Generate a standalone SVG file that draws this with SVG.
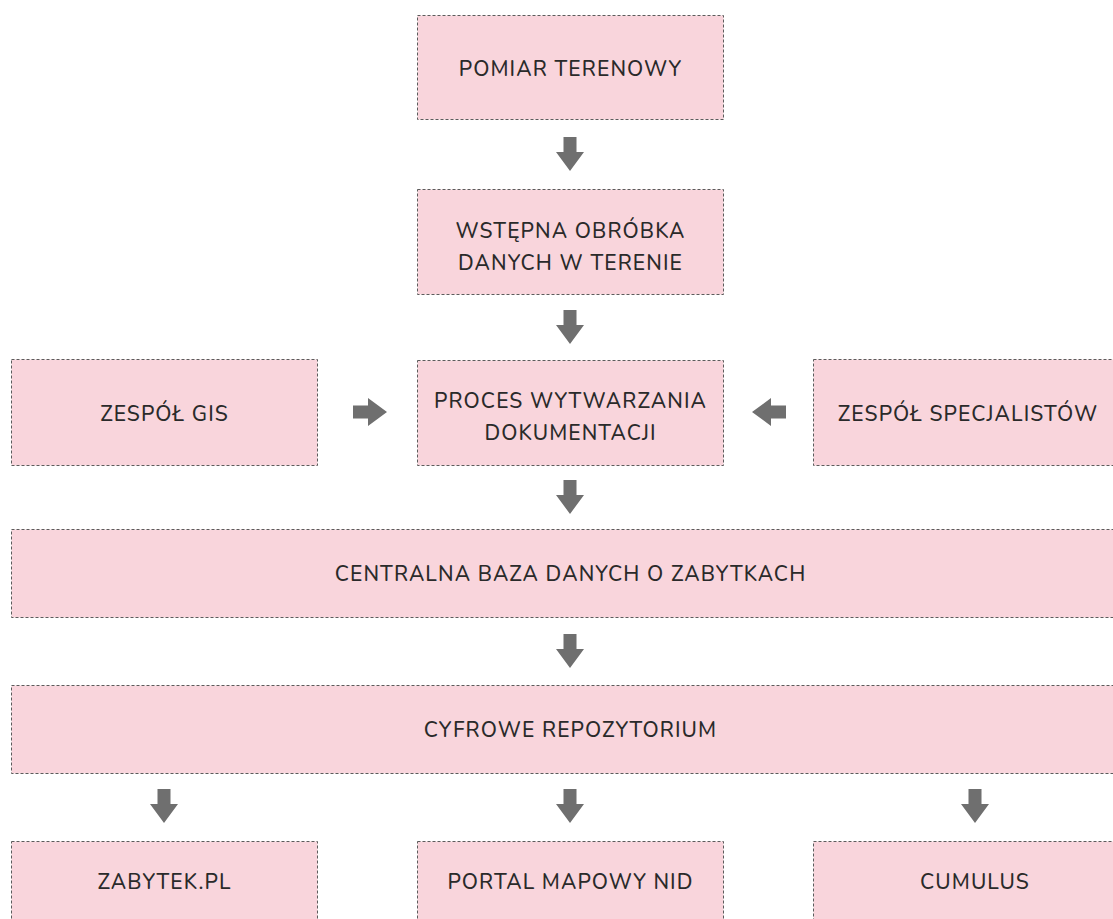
<svg xmlns="http://www.w3.org/2000/svg" width="1113" height="919" viewBox="0 0 1113 919">
<defs>
<style>
.box{fill:#f9d5dc;stroke:#5c5c5c;stroke-width:1;stroke-dasharray:3 2}
.t{font-family:"Nunito","Open Sans","Noto Sans",sans-serif;font-size:21px;font-weight:500;fill:#2a2a2a;text-anchor:middle;letter-spacing:1.1px}
.arr{fill:#6f6f6f}
</style>
<path id="ad" d="M-6.5,0 H6.5 V15 H14 L0,34 L-14,15 H-6.5 Z"/>
</defs>
<rect width="1113" height="919" fill="#ffffff"/>
<g id="n1"><rect class="box" x="417.5" y="15.5" width="306" height="104"/><text class="t" x="570.5" y="75.5">POMIAR TERENOWY</text></g>
<g id="n2"><rect class="box" x="417.5" y="189.5" width="306" height="105"/><text class="t" x="570.5" y="237.5">WSTĘPNA OBRÓBKA</text><text class="t" x="570.5" y="269.5">DANYCH W TERENIE</text></g>
<g id="n3"><rect class="box" x="417.5" y="360.5" width="306" height="105"/><text class="t" x="570.5" y="407.5">PROCES WYTWARZANIA</text><text class="t" x="570.5" y="439.5">DOKUMENTACJI</text></g>
<g id="n4"><rect class="box" x="11.5" y="359.5" width="306" height="106"/><text class="t" x="164.5" y="420.5">ZESPÓŁ GIS</text></g>
<g id="n5"><rect class="box" x="813.5" y="359.5" width="310" height="106"/><text class="t" x="968" y="420.5">ZESPÓŁ SPECJALISTÓW</text></g>
<g id="n6"><rect class="box" x="11.5" y="529.5" width="1112" height="88"/><text class="t" x="570.5" y="580.5">CENTRALNA BAZA DANYCH O ZABYTKACH</text></g>
<g id="n7"><rect class="box" x="11.5" y="685.5" width="1112" height="88"/><text class="t" x="570.5" y="736.5">CYFROWE REPOZYTORIUM</text></g>
<g id="n8"><rect class="box" x="11.5" y="841.5" width="306" height="100"/><text class="t" x="164.5" y="888.5">ZABYTEK.PL</text></g>
<g id="n9"><rect class="box" x="417.5" y="841.5" width="306" height="100"/><text class="t" x="570.5" y="888.5">PORTAL MAPOWY NID</text></g>
<g id="n10"><rect class="box" x="813.5" y="841.5" width="310" height="100"/><text class="t" x="975" y="888.5">CUMULUS</text></g>
<g id="connectors" class="arr">
<use href="#ad" x="570" y="137"/>
<use href="#ad" x="570" y="310"/>
<use href="#ad" x="570" y="480"/>
<use href="#ad" x="570" y="634"/>
<use href="#ad" x="164" y="789"/>
<use href="#ad" x="570" y="789"/>
<use href="#ad" x="975" y="789"/>
<use href="#ad" transform="translate(353,412) rotate(-90)"/>
<use href="#ad" transform="translate(786,412) rotate(90)"/>
</g>
</svg>
